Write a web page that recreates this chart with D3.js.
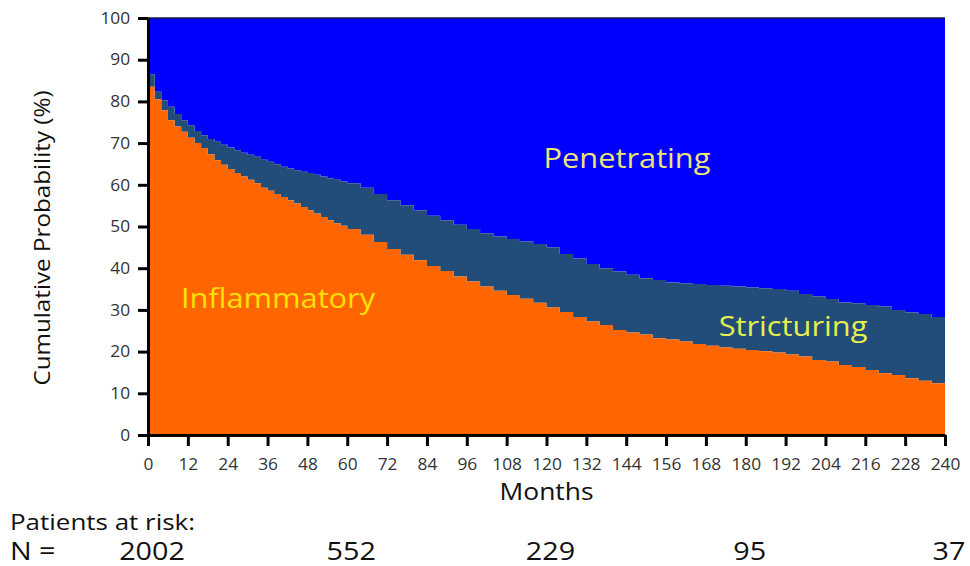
<!DOCTYPE html>
<html><head><meta charset="utf-8">
<script src="https://cdn.jsdelivr.net/npm/d3@7"></script>
<style>
html,body{margin:0;padding:0;background:#fff;}
svg{display:block;font-family:"Open Sans","Noto Sans",sans-serif;}
</style></head>
<body><svg id="c" width="970" height="566"></svg>
<script>
// Months at which the step estimates change
const months = [0,2,4,6,8,10,12,14,16,18,20,22,24,26,28,30,32,34,36,38,40,42,44,46,48,50,52,54,56,58,60,
  64,68,72,76,80,84,88,92,96,100,104,108,112,116,120,124,128,132,136,140,144,148,152,156,160,164,168,172,176,180,
  184,188,192,196,200,204,208,212,216,220,224,228,232,236,240];
// Upper edge of "Inflammatory" (%)
const inflammatory = [83.5,80.5,77.9,75.5,74.0,72.7,71.3,70.0,68.8,67.3,65.9,64.8,63.8,62.8,62.0,61.2,60.4,59.3,58.6,57.8,57.1,56.3,55.5,54.7,53.9,53.1,52.3,51.5,50.8,50.2,49.4,
  48.0,46.3,44.6,43.2,41.9,40.5,39.3,38.0,36.8,35.6,34.6,33.6,32.7,31.7,30.6,29.5,28.3,27.2,26.4,25.2,24.6,24.1,23.2,22.9,22.4,21.8,21.4,21.0,20.7,20.4,
  20.1,19.8,19.3,18.8,18.0,17.6,16.8,16.3,15.6,14.8,14.4,13.6,13.0,12.4,12.0];
// Upper edge of "Inflammatory" + "Stricturing" (%)
const inflammatoryPlusStricturing = [86.5,82.3,80.3,78.7,77.0,75.5,74.3,72.9,71.9,71.0,70.3,69.6,69.0,68.3,67.7,67.2,66.7,66.0,65.5,64.9,64.3,63.9,63.5,63.1,62.8,62.4,62.0,61.6,61.2,60.8,60.4,
  59.3,57.8,56.3,55.1,53.9,52.6,51.5,50.4,49.4,48.4,47.6,47.0,46.4,45.8,45.0,43.4,42.3,41.0,40.0,39.2,38.4,37.6,37.2,36.6,36.4,36.2,36.0,35.8,35.6,35.4,
  35.2,35.0,34.6,33.8,33.2,32.6,31.8,31.6,31.2,30.8,30.0,29.4,29.0,28.3,28.0];
const xTicks = d3.range(0, 241, 12);
const yTicks = d3.range(0, 101, 10);
const riskMonths = [0, 60, 120, 180, 240];
const riskN = ["2002", "552", "229", "95", "37"];

const svg = d3.select("#c");
const x = d3.scaleLinear().domain([0,240]).range([148,945]);
const y = d3.scaleLinear().domain([0,100]).range([435,18]);

const data = months.map((m,i)=>({m, a: inflammatory[i], b: inflammatoryPlusStricturing[i]}));
const curve = d3.curveStepAfter;

svg.append("path").datum(data)
  .attr("fill","#0000ff")
  .attr("d", d3.area().curve(curve).x(d=>x(d.m)).y0(d=>y(d.b)).y1(()=>y(100)));
svg.append("path").datum(data)
  .attr("fill","#224d78")
  .attr("d", d3.area().curve(curve).x(d=>x(d.m)).y0(d=>y(d.a)).y1(d=>y(d.b)));
svg.append("path").datum(data)
  .attr("fill","#ff6600")
  .attr("d", d3.area().curve(curve).x(d=>x(d.m)).y0(()=>y(0)).y1(d=>y(d.a)));

// top edge line
svg.append("line").attr("x1",x(0)).attr("x2",x(240)).attr("y1",y(100)).attr("y2",y(100))
  .attr("stroke","#1a1a40").attr("stroke-width",1.5);

// axes
const yAxis = svg.append("g").attr("transform",`translate(${x(0)},0)`)
  .call(d3.axisLeft(y).tickValues(yTicks).tickSize(10).tickPadding(7).tickSizeOuter(0));
const xAxis = svg.append("g").attr("transform",`translate(0,${y(0)})`)
  .call(d3.axisBottom(x).tickValues(xTicks).tickSize(11).tickPadding(12).tickSizeOuter(0));
[yAxis,xAxis].forEach(g=>{
  g.selectAll(".domain").attr("stroke","#000").attr("stroke-width",3);
  g.selectAll(".tick line").attr("stroke","#000").attr("stroke-width",3);
  g.selectAll(".tick text").attr("fill","#333").style("font-size","16.5px")
    .style("font-family","'Open Sans','Noto Sans',sans-serif").attr("transform","scale(1.05,1)");
});

function stretchedText(px, py, str, size, sx, anchor, fill, extra){
  return svg.append("text")
    .attr("transform",`translate(${px},${py})${extra||""} scale(${sx},1)`)
    .attr("text-anchor",anchor).style("font-size",size+"px").attr("fill",fill).text(str);
}

// axis titles
stretchedText((x(0)+x(240))/2, 500, "Months", 24, 1.1, "middle", "#111");
stretchedText(50, 238, "Cumulative Probability (%)", 22, 1.1, "middle", "#111", " rotate(-90)");

// region labels
stretchedText(627, 168, "Penetrating", 27, 1.14, "middle", "#ece37a");
stretchedText(278, 308, "Inflammatory", 27, 1.14, "middle", "#ffe100");
stretchedText(793, 336, "Stricturing", 27, 1.14, "middle", "#e6ef4c");

// patients at risk
stretchedText(10, 530, "Patients at risk:", 22, 1.18, "start", "#111");
stretchedText(10, 560, "N =", 25, 1.15, "start", "#111");
riskMonths.forEach((m,i)=>{
  stretchedText(x(m)+4, 560, riskN[i], 25, 1.15, "middle", "#111");
});
</script></body></html>
